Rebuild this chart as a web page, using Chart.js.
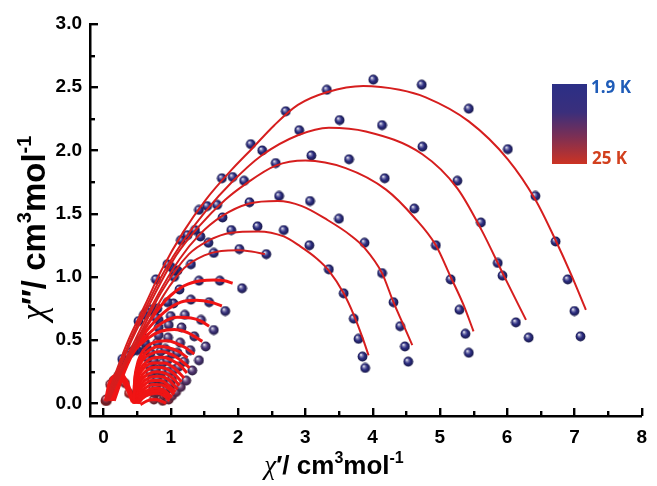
<!DOCTYPE html>
<html><head><meta charset="utf-8">
<script src="https://cdn.jsdelivr.net/npm/chart.js@4.4.1/dist/chart.umd.min.js"></script>
<style>html,body{margin:0;padding:0;background:#fff;}canvas{display:block;}</style>
</head><body>
<canvas id="c" width="657" height="486"></canvas>
<script>
// ---------- DATA ----------
// measured points, chi' vs chi'' (cm3/mol), series ordered from 1.9 K (largest arc) upward in T
const pts01 = [[0.28,0.35],[0.52,0.65],[0.78,0.98],[1.15,1.29],[1.42,1.53],[1.76,1.78],[2.19,2.05],[2.71,2.31],[3.32,2.48],[4.01,2.56],[4.73,2.52],[5.43,2.33],[6.01,2.01],[6.42,1.64],[6.72,1.28],[6.90,0.98],[7.00,0.73],[7.09,0.53]];
const pts02 = [[0.30,0.33],[0.60,0.70],[0.95,1.10],[1.25,1.33],[1.54,1.56],[1.92,1.79],[2.36,2.00],[2.91,2.16],[3.51,2.24],[4.14,2.20],[4.74,2.03],[5.26,1.76],[5.61,1.43],[5.86,1.11],[5.93,1.01],[6.13,0.64],[6.32,0.52]];
const pts03 = [[0.35,0.38],[0.65,0.72],[1.00,1.08],[1.36,1.37],[1.69,1.57],[2.09,1.76],[2.56,1.90],[3.09,1.96],[3.65,1.93],[4.18,1.78],[4.62,1.54],[4.94,1.25],[5.16,0.98],[5.29,0.74],[5.38,0.55],[5.43,0.40]];
const pts04 = [[0.40,0.40],[0.70,0.74],[1.05,1.05],[1.44,1.32],[1.77,1.47],[2.17,1.59],[2.61,1.64],[3.07,1.60],[3.50,1.46],[3.88,1.27],[4.14,1.03],[4.31,0.80],[4.41,0.61],[4.48,0.45],[4.53,0.33]];
const pts05 = [[0.45,0.42],[0.75,0.74],[1.10,1.05],[1.56,1.27],[1.90,1.37],[2.29,1.40],[2.68,1.37],[3.06,1.25],[3.35,1.06],[3.57,0.87],[3.72,0.67],[3.79,0.51],[3.85,0.37],[3.89,0.28]];
const pts06 = [[0.50,0.42],[0.80,0.75],[1.05,1.00],[1.30,1.10],[1.64,1.19],[2.02,1.22],[2.42,1.18]];
const pts07 = [[0.55,0.50],[0.78,0.68],[0.95,0.80],[1.13,0.90],[1.42,0.97],[1.73,0.97],[2.06,0.91]];
const pts08 = [[0.60,0.52],[0.82,0.66],[1.04,0.79],[1.30,0.82],[1.57,0.80],[1.81,0.73]];
const pts09 = [[0.62,0.48],[0.82,0.60],[1.00,0.69],[1.21,0.70],[1.45,0.66],[1.64,0.58]];
const pts10 = [[0.64,0.45],[0.82,0.54],[0.97,0.62],[1.16,0.60],[1.35,0.53],[1.52,0.45]];
const pts11 = [[0.62,0.42],[0.80,0.48],[0.96,0.52],[1.14,0.48],[1.29,0.42],[1.42,0.34]];
const pts12 = [[0.70,0.40],[0.92,0.43],[1.10,0.40]];
const pts13 = [[0.65,0.36],[0.85,0.41],[1.02,0.39],[1.20,0.33],[1.32,0.26]];
const pts14 = [[0.75,0.34],[0.95,0.34],[1.12,0.29]];
const pts15 = [[0.68,0.30],[0.88,0.32],[1.06,0.27],[1.23,0.18]];
const pts16 = [[0.78,0.27],[0.98,0.25]];
const pts17 = [[0.70,0.24],[0.88,0.25],[1.02,0.20],[1.15,0.13]];
const pts18 = [[0.80,0.20],[1.00,0.16]];
const pts19 = [[0.72,0.18],[0.88,0.18],[1.00,0.13],[1.08,0.09]];
const pts20 = [[0.78,0.14],[0.95,0.12]];
const pts21 = [[0.74,0.12],[0.88,0.11],[1.02,0.06]];
const pts22 = [[0.80,0.09],[0.94,0.07]];
const pts23 = [[0.76,0.08],[0.90,0.06],[0.97,0.03]];
const pts24 = [[0.75,0.03],[0.88,0.02]];
const pts25 = [[0.04,0.03],[0.10,0.15],[0.22,0.22]];
const pts26 = [[0.05,0.02],[0.15,0.18],[0.32,0.16]];
const pts27 = [[0.03,0.02],[0.12,0.14],[0.38,0.08]];

// fitted curves (red lines), sampled along the drawn curve
const fit01 = [[0.03,0.02],[0.18,0.24],[0.37,0.50],[0.62,0.78],[0.86,1.05],[1.18,1.35],[1.52,1.61],[1.91,1.85],[2.20,2.01],[2.54,2.20],[2.89,2.36],[3.32,2.46],[3.86,2.51],[4.40,2.48],[4.79,2.42],[5.43,2.23],[6.01,1.93],[6.42,1.61],[6.72,1.29],[6.95,1.02],[7.17,0.74]];
const fit02 = [[0.04,0.02],[0.20,0.24],[0.40,0.50],[0.65,0.78],[0.90,1.04],[1.18,1.28],[1.52,1.52],[1.91,1.75],[2.35,1.96],[2.89,2.12],[3.35,2.18],[3.90,2.15],[4.74,1.97],[5.26,1.70],[5.62,1.37],[5.96,1.00],[6.28,0.66]];
const fit03 = [[0.05,0.02],[0.22,0.25],[0.42,0.50],[0.70,0.80],[1.08,1.17],[1.42,1.40],[1.81,1.61],[2.10,1.73],[2.56,1.88],[3.00,1.92],[3.60,1.86],[4.20,1.69],[4.62,1.47],[4.94,1.25],[5.16,1.00],[5.35,0.78],[5.50,0.57]];
const fit04 = [[0.06,0.02],[0.25,0.26],[0.47,0.50],[0.80,0.85],[1.13,1.14],[1.42,1.33],[1.76,1.48],[2.17,1.58],[2.59,1.60],[2.95,1.56],[3.33,1.45],[3.67,1.33],[3.88,1.23],[4.14,1.03],[4.31,0.80],[4.45,0.63],[4.59,0.46]];
const fit05 = [[0.07,0.02],[0.27,0.27],[0.50,0.50],[0.85,0.87],[1.27,1.18],[1.57,1.29],[1.90,1.35],[2.30,1.36],[2.68,1.32],[2.93,1.24],[3.16,1.15],[3.35,1.05],[3.57,0.87],[3.72,0.70],[3.85,0.52],[3.94,0.38]];
const fit06 = [[0.08,0.02],[0.30,0.28],[0.55,0.52],[0.90,0.86],[1.20,1.07],[1.50,1.17],[1.75,1.205],[2.00,1.21],[2.20,1.20],[2.40,1.18]];
const fit07 = [[0.10,0.02],[0.30,0.28],[0.45,0.44],[0.70,0.66],[0.95,0.83],[1.20,0.93],[1.45,0.97],[1.65,0.975],[1.80,0.97],[1.92,0.95]];
const fit08 = [[0.12,0.02],[0.30,0.27],[0.46,0.44],[0.65,0.58],[0.90,0.72],[1.15,0.80],[1.38,0.815],[1.60,0.80],[1.76,0.77]];
const fit09 = [[0.14,0.02],[0.30,0.26],[0.46,0.43],[0.65,0.54],[0.88,0.64],[1.10,0.68],[1.30,0.675],[1.45,0.65],[1.57,0.61]];
const fit10 = [[0.16,0.02],[0.32,0.26],[0.47,0.42],[0.65,0.51],[0.85,0.57],[1.05,0.585],[1.25,0.56],[1.47,0.49]];
const fit11 = [[0.45,0.00],[0.46,0.15],[0.49,0.28],[0.55,0.38],[0.65,0.45],[0.80,0.49],[0.95,0.495],[1.10,0.47],[1.22,0.44],[1.35,0.39]];
const fit12 = [[0.45,0.00],[0.46,0.14],[0.50,0.27],[0.57,0.36],[0.68,0.42],[0.82,0.45],[0.97,0.44],[1.12,0.41],[1.25,0.36]];
const fit13 = [[0.45,0.00],[0.47,0.14],[0.51,0.26],[0.58,0.34],[0.70,0.39],[0.85,0.41],[1.00,0.39],[1.15,0.34],[1.28,0.28]];
const fit14 = [[0.45,0.00],[0.47,0.13],[0.52,0.24],[0.60,0.31],[0.72,0.355],[0.87,0.365],[1.02,0.34],[1.16,0.29],[1.24,0.24]];
const fit15 = [[0.46,0.00],[0.48,0.12],[0.53,0.22],[0.62,0.29],[0.75,0.32],[0.90,0.32],[1.05,0.28],[1.20,0.20]];
const fit16 = [[0.46,0.00],[0.49,0.11],[0.55,0.20],[0.64,0.26],[0.78,0.285],[0.93,0.275],[1.06,0.23],[1.16,0.17]];
const fit17 = [[0.47,0.00],[0.50,0.10],[0.56,0.18],[0.66,0.23],[0.80,0.25],[0.95,0.23],[1.05,0.19],[1.13,0.14]];
const fit18 = [[0.47,0.00],[0.51,0.09],[0.58,0.16],[0.69,0.205],[0.83,0.215],[0.96,0.19],[1.10,0.11]];
const fit19 = [[0.48,0.00],[0.52,0.08],[0.60,0.14],[0.72,0.18],[0.85,0.18],[0.97,0.14],[1.07,0.09]];
const fit20 = [[0.49,0.00],[0.54,0.07],[0.62,0.12],[0.74,0.15],[0.87,0.145],[0.98,0.11],[1.05,0.07]];
const fit21 = [[0.50,0.00],[0.55,0.06],[0.64,0.10],[0.76,0.12],[0.88,0.11],[1.02,0.05]];
const fit22 = [[0.51,0.00],[0.57,0.05],[0.66,0.085],[0.78,0.10],[0.90,0.085],[1.00,0.04]];
const fit23 = [[0.52,0.00],[0.58,0.04],[0.68,0.07],[0.80,0.08],[0.90,0.06],[0.98,0.02]];
const fit24 = [[0.55,-0.01],[0.65,0.02],[0.75,0.03],[0.85,0.02],[0.93,0.00]];
const fit25 = [[0.03,0.02],[0.08,0.15],[0.16,0.22],[0.26,0.235],[0.36,0.16],[0.45,0.01]];
const fit26 = [[0.04,0.02],[0.10,0.14],[0.18,0.20],[0.28,0.20],[0.37,0.12],[0.44,0.01]];
const fit27 = [[0.03,0.02],[0.09,0.13],[0.17,0.18],[0.27,0.18],[0.36,0.10],[0.43,0.01]];

const pointSeries = [pts01,pts02,pts03,pts04,pts05,pts06,pts07,pts08,pts09,pts10,pts11,pts12,pts13,pts14,pts15,pts16,pts17,pts18,pts19,pts20,pts21,pts22,pts23,pts24,pts25,pts26,pts27];
const fitSeries   = [fit01,fit02,fit03,fit04,fit05,fit06,fit07,fit08,fit09,fit10,fit11,fit12,fit13,fit14,fit15,fit16,fit17,fit18,fit19,fit20,fit21,fit22,fit23,fit24,fit25,fit26,fit27];

const xTicks = [0,1,2,3,4,5,6,7,8];
const yTicks = [0.0,0.5,1.0,1.5,2.0,2.5,3.0];
const legendLabels = ['1.9 K','25 K'];

// ---------- STYLE ----------
const sphereColors = ['#2c2d82','#2c2d82','#2c2d82','#2c2d82','#2d2e82','#2e2e82','#33307f','#38327d','#3e337b','#453579','#4a3677','#4d3776','#533874','#563872','#5b3870','#60386c','#663868','#6b3865','#70375f','#76365c','#7c3557','#823552','#8c3349','#963240','#9a3040','#aa2e35','#b82c2c'];
const lineColor = 'rgb(214,30,30)';
const fanColor = 'rgb(240,20,20)';

function shade(hex, f){
  const n=parseInt(hex.slice(1),16); let r=n>>16,g=(n>>8)&255,b=n&255;
  if(f>0){r=r+(255-r)*f;g=g+(255-g)*f;b=b+(255-b)*f;} else {r=r*(1+f);g=g*(1+f);b=b*(1+f);}
  return 'rgb('+Math.round(r)+','+Math.round(g)+','+Math.round(b)+')';
}
function sphere(color){
  const r=4.9, s=11;
  const c=document.createElement('canvas'); c.width=s; c.height=s;
  const g=c.getContext('2d');
  const grad=g.createRadialGradient(s/2-1.6,s/2-1.9,0.2,s/2,s/2,r);
  grad.addColorStop(0,'#ffffff');
  grad.addColorStop(0.22,shade(color,0.45));
  grad.addColorStop(0.55,color);
  grad.addColorStop(1,shade(color,-0.45));
  g.fillStyle=grad; g.beginPath(); g.arc(s/2,s/2,r,0,Math.PI*2); g.fill();
  return c;
}

const datasets=[];
pointSeries.forEach((arr,i)=>{
  datasets.push({type:'scatter',data:arr.map(p=>({x:p[0],y:p[1]})),pointStyle:sphere(sphereColors[i]),pointRadius:5,showLine:false,order:2});
});
fitSeries.forEach((arr,i)=>{
  const fan = i>=6;
  datasets.push({type:'scatter',data:arr.map(p=>({x:p[0],y:p[1]})),showLine:true,pointRadius:0,
    borderColor:fan?fanColor:lineColor,borderWidth:fan?3:2,cubicInterpolationMode:'monotone',fill:false,order:1});
});

function fontOf(p,size){
  if(p.greek) return 'italic '+Math.round(size*1.05)+'px "Liberation Serif"';
  if(p.sup) return 'bold '+Math.round(size*0.6)+'px "Liberation Sans"';
  return 'bold '+size+'px "Liberation Sans"';
}
function richWidth(ctx, parts, size){
  let w=0; parts.forEach(p=>{ctx.font=fontOf(p,size); w+=ctx.measureText(p.t).width;}); return w;
}
function drawRich(ctx, parts, size){
  let x=-richWidth(ctx,parts,size)/2;
  parts.forEach(p=>{ctx.font=fontOf(p,size); ctx.fillText(p.t,x,p.sup?-size*0.42:0); x+=ctx.measureText(p.t).width;});
}
const xTitle=[{t:'\u03C7',greek:true},{t:'\u2032/ cm'},{t:'3',sup:true},{t:'mol'},{t:'-1',sup:true}];
const yTitle=[{t:'\u03C7',greek:true},{t:'\u2033/ cm'},{t:'3',sup:true},{t:'mol'},{t:'-1',sup:true}];

function drawTicks(chart){
  const ctx=chart.ctx, xs=chart.scales.x, ys=chart.scales.y;
  const bottom=xs.top, left=ys.right;
  ctx.save();
  ctx.fillStyle='#000000';
  for(let k=0; k<=16; k++){
    const px=xs.getPixelForValue(k*0.5); const L=(k%2===0)?8:5;
    ctx.fillRect(Math.round(px)-1, bottom-L, 2.4, L);
  }
  for(let k=0; k<=12; k++){
    const py=ys.getPixelForValue(k*0.25); const L=(k%2===0)?8:5;
    ctx.fillRect(left, Math.round(py)-1, L, 2.4);
  }
  ctx.restore();
}

const decor={
  id:'decor',
  afterDraw(chart){
    const ctx=chart.ctx;
    drawTicks(chart);
    ctx.save();
    ctx.fillStyle='#000';
    ctx.textBaseline='alphabetic'; ctx.textAlign='left';
    ctx.save(); ctx.translate(334,474); drawRich(ctx,xTitle,26); ctx.restore();
    ctx.save(); ctx.translate(45,228); ctx.rotate(-Math.PI/2); drawRich(ctx,yTitle,33); ctx.restore();
    // colour bar legend
    const g=ctx.createLinearGradient(0,84,0,164);
    g.addColorStop(0,'#2b2f86'); g.addColorStop(0.35,'#3a2f7c'); g.addColorStop(0.65,'#7a2f55'); g.addColorStop(1,'#cc3323');
    ctx.fillStyle=g; ctx.fillRect(552,84,35,80);
    ctx.font='bold 17px "Open Sans"'; ctx.textBaseline='middle';
    ctx.fillStyle='#1f5cb8'; ctx.fillText(legendLabels[0],591,88);
    ctx.fillStyle='#d2401e'; ctx.fillText(legendLabels[1],592,159);
    ctx.restore();
  }
};

new Chart(document.getElementById('c'),{
  type:'scatter',
  data:{datasets},
  options:{
    responsive:false, devicePixelRatio:1, animation:false,
    layout:{padding:{top:24,right:8,left:0,bottom:0}},
    plugins:{legend:{display:false},tooltip:{enabled:false}},
    scales:{
      x:{type:'linear',min:-0.2,max:8,
        afterFit(s){s.height=70;},
        afterBuildTicks(s){s.ticks=xTicks.map(v=>({value:v}));},
        grid:{display:false,drawTicks:false},
        border:{display:true,color:'#000',width:2.5},
        ticks:{padding:10,color:'#000',font:{family:'"Liberation Sans"',size:19,weight:'bold'},callback:v=>String(v),maxRotation:0}},
      y:{type:'linear',min:-0.1,max:3.0,
        afterFit(s){s.width=90;},
        afterBuildTicks(s){s.ticks=yTicks.map(v=>({value:v}));},
        grid:{display:false,drawTicks:false},
        border:{display:true,color:'#000',width:2.5},
        ticks:{padding:8,color:'#000',font:{family:'"Liberation Sans"',size:19,weight:'bold'},callback:v=>Number(v).toFixed(1)}}
    }
  },
  plugins:[decor]
});
</script>
</body></html>
